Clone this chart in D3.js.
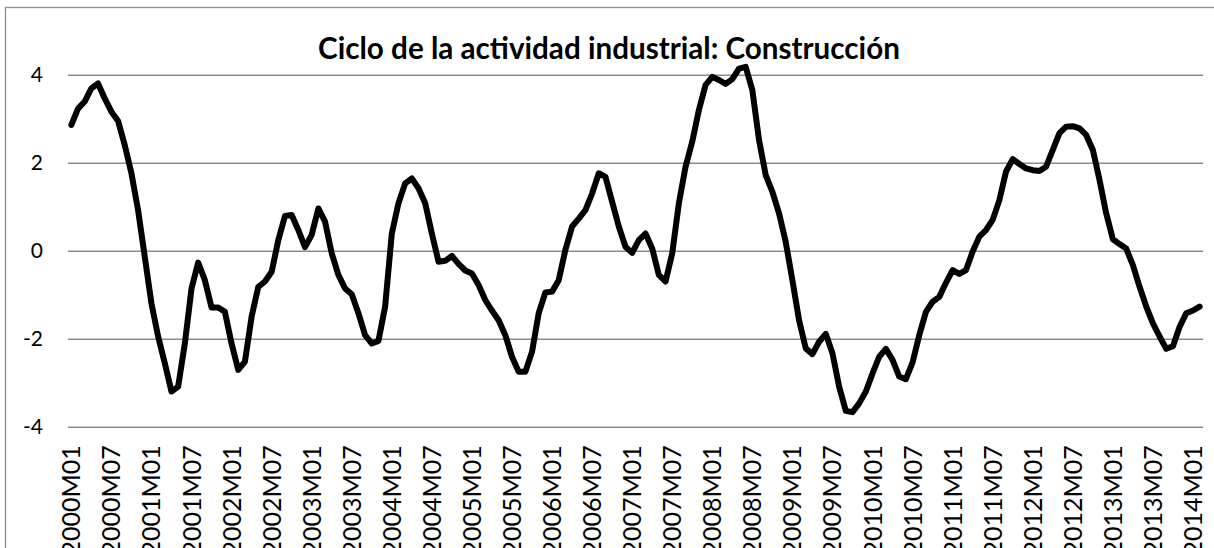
<!DOCTYPE html>
<html><head><meta charset="utf-8">
<script src="https://cdn.jsdelivr.net/npm/d3@7"></script>
<style>body{margin:0;background:#fff} svg{display:block}</style>
</head><body>
<svg id="c" width="1214" height="548"></svg>
<script>
const chartTitle = "Ciclo de la actividad industrial: Construcción";
const startYear = 2000;
const monthCount = 170;
const categories = [];
for (let i = 0; i < monthCount; i++) {
  const yr = startYear + Math.floor(i / 12), m = (i % 12) + 1;
  categories.push(yr + "M" + (m < 10 ? "0" + m : m));
}
const values = [
  2.86, 3.23, 3.39, 3.69, 3.80, 3.46, 3.16, 2.95, 2.40, 1.76, 0.92, -0.14,
  -1.20, -1.95, -2.56, -3.20, -3.09, -2.11, -0.86, -0.27, -0.67, -1.29, -1.29, -1.39,
  -2.11, -2.71, -2.52, -1.50, -0.82, -0.70, -0.48, 0.24, 0.79, 0.81, 0.47, 0.08,
  0.36, 0.96, 0.66, -0.06, -0.55, -0.86, -0.99, -1.42, -1.92, -2.11, -2.05, -1.27,
  0.39, 1.08, 1.53, 1.64, 1.42, 1.08, 0.39, -0.25, -0.23, -0.12, -0.30, -0.45,
  -0.52, -0.78, -1.12, -1.36, -1.58, -1.92, -2.41, -2.75, -2.75, -2.30, -1.42, -0.95,
  -0.93, -0.67, 0.02, 0.55, 0.73, 0.92, 1.30, 1.76, 1.68, 1.11, 0.55, 0.09,
  -0.05, 0.24, 0.39, 0.05, -0.55, -0.70, -0.06, 1.08, 1.91, 2.48, 3.20, 3.77,
  3.95, 3.88, 3.79, 3.90, 4.14, 4.18, 3.65, 2.52, 1.72, 1.34, 0.85, 0.20,
  -0.67, -1.58, -2.22, -2.35, -2.07, -1.89, -2.33, -3.09, -3.64, -3.67, -3.47, -3.20,
  -2.79, -2.41, -2.23, -2.48, -2.86, -2.92, -2.54, -1.92, -1.39, -1.16, -1.05, -0.73,
  -0.44, -0.53, -0.44, -0.02, 0.32, 0.47, 0.70, 1.15, 1.80, 2.08, 1.97, 1.87,
  1.83, 1.81, 1.91, 2.29, 2.67, 2.82, 2.83, 2.78, 2.63, 2.29, 1.61, 0.85,
  0.26, 0.15, 0.05, -0.33, -0.82, -1.27, -1.65, -1.95, -2.23, -2.17, -1.73, -1.42,
  -1.36, -1.27
];
const yTicks = [-4, -2, 0, 2, 4];
const xTickLabels = categories.filter((d, i) => i % 6 === 0);

const svg = d3.select("#c");
const plotLeft = 68, plotRight = 1203, plotTop = 74.7, plotBottom = 426.7;

// chart border
svg.append("rect").attr("x", 5.5).attr("y", 7.5).attr("width", 1400).attr("height", 800)
  .attr("fill", "#fff").attr("stroke", "#8c8c8c").attr("stroke-width", 1.3);

const x = d3.scaleBand().domain(categories).range([plotLeft, plotRight]);
const y = d3.scaleLinear().domain([-4, 4]).range([plotBottom, plotTop]);

const yAxis = svg.append("g").attr("transform", `translate(${plotLeft},0)`)
  .call(d3.axisLeft(y).tickValues(yTicks).tickSize(-(plotRight - plotLeft)).tickPadding(25).tickFormat(d => String(d)));
yAxis.select(".domain").remove();
yAxis.selectAll(".tick line").attr("stroke", "#8c8c8c").attr("stroke-width", 1.6);
yAxis.selectAll(".tick text").attr("font-family", "Lato, 'Open Sans', sans-serif")
  .attr("font-size", 21).attr("fill", "#000");

const xAxis = svg.append("g").attr("transform", `translate(0,${plotBottom})`)
  .call(d3.axisBottom(x).tickValues(xTickLabels).tickSize(0));
xAxis.select(".domain").remove();
xAxis.selectAll(".tick text")
  .attr("transform", "rotate(-90)")
  .attr("x", -18.5).attr("y", 0).attr("dy", "0.36em")
  .attr("text-anchor", "end")
  .attr("font-family", "Lato, 'Open Sans', sans-serif")
  .attr("font-size", 25).attr("fill", "#000");

const line = d3.line()
  .x((d, i) => x(categories[i]) + x.bandwidth() / 2)
  .y(d => y(d));
svg.append("path").datum(values).attr("d", line)
  .attr("fill", "none").attr("stroke", "#000").attr("stroke-width", 6)
  .attr("stroke-linejoin", "round").attr("stroke-linecap", "round");

const t = svg.append("text").text(chartTitle)
  .attr("x", 609).attr("y", 59).attr("text-anchor", "middle")
  .attr("font-family", "Lato, 'Open Sans', sans-serif").attr("font-weight", "bold")
  .attr("font-size", 30).attr("fill", "#000");
const w = t.node().getComputedTextLength();
t.attr("font-size", 30 * 582 / w);
</script>
</body></html>
